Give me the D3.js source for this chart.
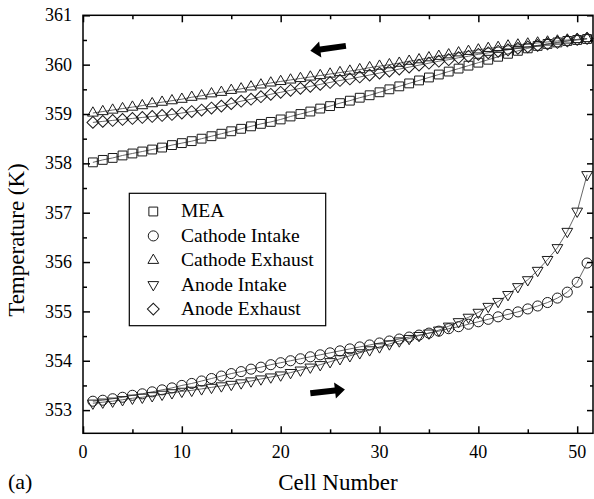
<!DOCTYPE html>
<html>
<head>
<meta charset="utf-8">
<script src="https://cdn.jsdelivr.net/npm/d3@7"></script>
<style>
  html, body { margin: 0; padding: 0; background: #fff; }
  svg { display: block; font-family: "Liberation Serif", "Times New Roman", serif; }
  .tick-label { font-size: 18px; fill: #000; }
  .axis-label { font-size: 23px; fill: #000; }
  .legend-text { font-size: 19.5px; fill: #000; }
</style>
</head>
<body>
<div id="chart"></div>
<script>
// Cell temperatures along the stack, one value per cell (1..51).
const width = 594;
const height = 499;

const cells = d3.range(1, 52);

const mea = [
  358.02, 358.07, 358.11, 358.16, 358.20, 358.24, 358.28, 358.32, 358.37, 358.41,
  358.45, 358.50, 358.55, 358.60, 358.65, 358.70, 358.75, 358.80, 358.84, 358.89,
  358.95, 359.00, 359.05, 359.11, 359.16, 359.22, 359.27, 359.33, 359.38, 359.44,
  359.50, 359.56, 359.62, 359.68, 359.74, 359.80, 359.86, 359.92, 359.98, 360.04,
  360.10, 360.16, 360.22, 360.28, 360.33, 360.38, 360.42, 360.45, 360.48, 360.50,
  360.52
];

const cathodeIntake = [
  353.18, 353.20, 353.23, 353.26, 353.30, 353.33, 353.37, 353.41, 353.45, 353.50,
  353.54, 353.59, 353.64, 353.69, 353.74, 353.78, 353.83, 353.87, 353.92, 353.96,
  354.00, 354.04, 354.08, 354.12, 354.16, 354.20, 354.24, 354.28, 354.32, 354.36,
  354.40, 354.44, 354.48, 354.52, 354.56, 354.60, 354.65, 354.69, 354.74, 354.79,
  354.84, 354.89, 354.94, 354.99, 355.05, 355.11, 355.18, 355.27, 355.39, 355.59,
  355.98
];

const cathodeExhaust = [
  359.02, 359.05, 359.08, 359.11, 359.14, 359.17, 359.21, 359.24, 359.27, 359.30,
  359.34, 359.37, 359.41, 359.44, 359.48, 359.51, 359.55, 359.59, 359.63, 359.66,
  359.69, 359.72, 359.75, 359.78, 359.81, 359.84, 359.87, 359.90, 359.94, 359.97,
  360.00, 360.03, 360.07, 360.10, 360.14, 360.17, 360.20, 360.24, 360.27, 360.30,
  360.33, 360.35, 360.38, 360.40, 360.42, 360.44, 360.46, 360.48, 360.50, 360.51,
  360.53
];

const anodeIntake = [
  353.14, 353.16, 353.18, 353.21, 353.24, 353.26, 353.29, 353.32, 353.35, 353.38,
  353.40, 353.43, 353.46, 353.49, 353.52, 353.55, 353.59, 353.63, 353.67, 353.71,
  353.76, 353.81, 353.87, 353.92, 353.98, 354.04, 354.10, 354.16, 354.22, 354.28,
  354.34, 354.40, 354.45, 354.51, 354.56, 354.62, 354.70, 354.79, 354.88, 354.98,
  355.10, 355.20, 355.34, 355.50, 355.64, 355.83, 356.05, 356.29, 356.62, 357.03,
  357.77
];

const anodeExhaust = [
  358.83, 358.85, 358.87, 358.89, 358.91, 358.93, 358.95, 358.97, 358.99, 359.02,
  359.05, 359.08, 359.12, 359.16, 359.21, 359.26, 359.30, 359.35, 359.40, 359.44,
  359.48, 359.52, 359.56, 359.60, 359.64, 359.68, 359.71, 359.75, 359.79, 359.83,
  359.87, 359.91, 359.95, 359.99, 360.03, 360.07, 360.10, 360.14, 360.17, 360.21,
  360.24, 360.27, 360.30, 360.33, 360.36, 360.39, 360.42, 360.45, 360.48, 360.51,
  360.53
];

const seriesNames = ["MEA", "Cathode Intake", "Cathode Exhaust", "Anode Intake", "Anode Exhaust"];
const seriesValues = [mea, cathodeIntake, cathodeExhaust, anodeIntake, anodeExhaust];

const xTicks = [0, 10, 20, 30, 40, 50];
const yTicks = [353, 354, 355, 356, 357, 358, 359, 360, 361];

// flow direction arrows, [cell, temperature] of tail and tip
const arrowTop = { tail: [26.6, 360.38], tip: [23.0, 360.28] };
const arrowBottom = { tail: [23.0, 353.34], tip: [26.5, 353.42] };

const margin = { top: 15.3, right: 1, bottom: 65.7, left: 83 };

const svg = d3.select("#chart")
  .append("svg")
  .attr("width", width)
  .attr("height", height);

const xScale = d3.scaleLinear()
  .domain([0, 51.6])
  .range([margin.left, width - margin.right]);

const yScale = d3.scaleLinear()
  .domain([352.53, 361])
  .range([height - margin.bottom, margin.top]);

const x0 = xScale.range()[0], x1 = xScale.range()[1];
const y0 = yScale.range()[0], y1 = yScale.range()[1];

// symbol for each series
const sq = d3.symbol().type(d3.symbolSquare).size(78)();
const circ = d3.symbol().type(d3.symbolCircle).size(80)();
const tri = d3.symbol().type(d3.symbolTriangle).size(50)();
const dia = d3.symbol().type(d3.symbolSquare).size(70)();
const markers = [
  { path: sq, rot: 0 },
  { path: circ, rot: 0 },
  { path: tri, rot: 0 },
  { path: tri, rot: 180 },
  { path: dia, rot: 45 }
];

// thin connecting lines under the markers
const line = d3.line()
  .x((d, i) => xScale(cells[i]))
  .y(d => yScale(d));

seriesValues.forEach(vals => {
  svg.append("path")
    .datum(vals)
    .attr("fill", "none")
    .attr("stroke", "#555")
    .attr("stroke-width", 0.9)
    .attr("d", line);
});

seriesValues.forEach((vals, s) => {
  svg.append("g")
    .selectAll("path")
    .data(vals)
    .join("path")
    .attr("d", markers[s].path)
    .attr("transform", (d, i) => `translate(${xScale(cells[i])},${yScale(d)}) rotate(${markers[s].rot})`)
    .attr("fill", "none")
    .attr("stroke", "#1a1a1a")
    .attr("stroke-width", 1);
});

// axes: ticks pointing inward on all four sides
const xMinor = d3.range(5, 51, 10);
const yMinor = d3.range(353.5, 361, 1);

svg.append("g")
  .attr("transform", `translate(0,${y0})`)
  .call(d3.axisBottom(xScale).tickValues(xTicks).tickSizeInner(-7).tickSizeOuter(0).tickFormat(""))
  .call(g => g.select(".domain").remove());
svg.append("g")
  .attr("transform", `translate(0,${y0})`)
  .call(d3.axisBottom(xScale).tickValues(xMinor).tickSizeInner(-4).tickSizeOuter(0).tickFormat(""))
  .call(g => g.select(".domain").remove());
svg.append("g")
  .attr("transform", `translate(0,${y1})`)
  .call(d3.axisTop(xScale).tickValues(xTicks).tickSizeInner(-7).tickSizeOuter(0).tickFormat(""))
  .call(g => g.select(".domain").remove());
svg.append("g")
  .attr("transform", `translate(0,${y1})`)
  .call(d3.axisTop(xScale).tickValues(xMinor).tickSizeInner(-4).tickSizeOuter(0).tickFormat(""))
  .call(g => g.select(".domain").remove());
svg.append("g")
  .attr("transform", `translate(${x0},0)`)
  .call(d3.axisLeft(yScale).tickValues(yTicks).tickSizeInner(-7).tickSizeOuter(0).tickFormat(""))
  .call(g => g.select(".domain").remove());
svg.append("g")
  .attr("transform", `translate(${x0},0)`)
  .call(d3.axisLeft(yScale).tickValues(yMinor).tickSizeInner(-4).tickSizeOuter(0).tickFormat(""))
  .call(g => g.select(".domain").remove());
svg.append("g")
  .attr("transform", `translate(${x1},0)`)
  .call(d3.axisRight(yScale).tickValues(yTicks).tickSizeInner(-6).tickSizeOuter(0).tickFormat(""))
  .call(g => g.select(".domain").remove());
svg.append("g")
  .attr("transform", `translate(${x1},0)`)
  .call(d3.axisRight(yScale).tickValues(yMinor).tickSizeInner(-3).tickSizeOuter(0).tickFormat(""))
  .call(g => g.select(".domain").remove());

svg.selectAll(".tick line").attr("stroke", "#000").attr("stroke-width", 1.5);

// frame
svg.append("rect")
  .attr("x", x0)
  .attr("y", y1)
  .attr("width", x1 - x0)
  .attr("height", y0 - y1)
  .attr("fill", "none")
  .attr("stroke", "#000")
  .attr("stroke-width", 1.5);

// tick labels
svg.append("g")
  .selectAll("text")
  .data(xTicks)
  .join("text")
  .attr("class", "tick-label")
  .attr("x", d => xScale(d))
  .attr("y", y0 + 25)
  .attr("text-anchor", "middle")
  .text(d => d);

svg.append("g")
  .selectAll("text")
  .data(yTicks)
  .join("text")
  .attr("class", "tick-label")
  .attr("x", x0 - 11)
  .attr("y", d => yScale(d))
  .attr("dy", "0.34em")
  .attr("text-anchor", "end")
  .text(d => d);

// axis titles
svg.append("text")
  .attr("class", "axis-label")
  .attr("x", (x0 + x1) / 2)
  .attr("y", 490)
  .attr("text-anchor", "middle")
  .text("Cell Number");

svg.append("text")
  .attr("class", "axis-label")
  .attr("transform", "translate(24,240) rotate(-90)")
  .attr("text-anchor", "middle")
  .text("Temperature (K)");

svg.append("text")
  .attr("class", "axis-label")
  .style("font-size", "22px")
  .attr("x", 8)
  .attr("y", 489)
  .text("(a)");

// arrows
function arrowPath(a) {
  const tx = xScale(a.tail[0]), ty = yScale(a.tail[1]);
  const px = xScale(a.tip[0]), py = yScale(a.tip[1]);
  const ang = Math.atan2(py - ty, px - tx);
  const len = Math.hypot(px - tx, py - ty);
  const headLen = 10, headHalf = 8, shaftHalf = 3;
  const pts = [
    [0, -shaftHalf], [len - headLen, -shaftHalf], [len - headLen, -headHalf],
    [len, 0], [len - headLen, headHalf], [len - headLen, shaftHalf], [0, shaftHalf]
  ].map(([u, v]) => [
    tx + u * Math.cos(ang) - v * Math.sin(ang),
    ty + u * Math.sin(ang) + v * Math.cos(ang)
  ]);
  return "M" + pts.map(p => p.join(",")).join("L") + "Z";
}

[arrowTop, arrowBottom].forEach(a => {
  svg.append("path")
    .attr("d", arrowPath(a))
    .attr("fill", "#000");
});

// legend
const legend = svg.append("g");
legend.append("rect")
  .attr("x", 129.3)
  .attr("y", 193.3)
  .attr("width", 196.4)
  .attr("height", 132.4)
  .attr("fill", "#fff")
  .attr("stroke", "#000")
  .attr("stroke-width", 1.2);

seriesNames.forEach((name, i) => {
  const by = 217.3 + i * 24.4;
  legend.append("path")
    .attr("d", markers[i].path)
    .attr("transform", `translate(153.3,${by - 5.8}) rotate(${markers[i].rot})`)
    .attr("fill", "none")
    .attr("stroke", "#1a1a1a")
    .attr("stroke-width", 1);
  legend.append("text")
    .attr("class", "legend-text")
    .attr("x", 181)
    .attr("y", by)
    .text(name);
});
</script>
</body>
</html>
